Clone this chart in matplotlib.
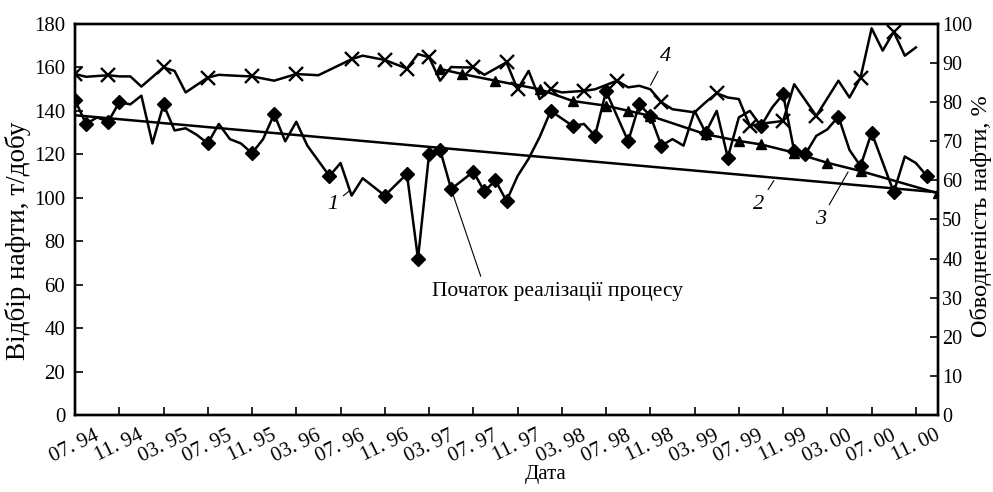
import numpy as np
import matplotlib.pyplot as plt

plt.rcParams['font.family'] = ['Liberation Serif', 'DejaVu Serif']

# month index: 0 = 07.94
tick_labels = ["07. 94", "11. 94", "03. 95", "07. 95", "11. 95", "03. 96", "07. 96",
               "11. 96", "03. 97", "07. 97", "11. 97", "03. 98", "07. 98", "11. 98",
               "03. 99", "07. 99", "11. 99", "03. 00", "07. 00", "11. 00"]

# 1 - oil production, t/day
oil_month = [0, 1, 2, 3, 4, 5, 6, 7, 8, 9, 10, 11, 12, 13, 14, 15, 16, 17, 18, 19, 20,
             21, 23, 24, 25, 26, 28, 30, 31, 32, 33, 34, 36, 37, 38, 39, 40, 41, 42, 43,
             45, 46, 47, 48, 50, 51, 52, 53, 54, 55, 56, 57, 58, 59, 60, 61, 62, 63, 64,
             65, 66, 67, 68, 69, 70, 71, 72, 74, 75, 76, 77]
oil_value = [145, 134, 137, 135, 144, 143, 147, 125, 143, 131, 132, 129, 125, 134, 127,
             125, 120.5, 127, 138.5, 126, 135, 124, 110, 116, 101, 109, 101, 111, 72, 120,
             122, 104, 112, 103, 108, 98.5, 110, 118, 128, 140, 133, 134, 128.5, 149, 126,
             143, 137.7, 124, 127, 124, 140, 130, 140, 118.5, 137, 140, 133, 141.5, 147.7,
             121.5, 120, 128.5, 131.5, 137.4, 122, 114.6, 130, 102.6, 119, 116, 110]
oil_marked = [0, 1, 3, 4, 8, 12, 16, 18, 23, 28, 30, 31, 32, 33, 34, 36, 37, 38, 39, 43,
              45, 47, 48, 50, 51, 52, 53, 57, 59, 62, 64, 65, 66, 69, 71, 72, 74, 77]

# 2 - base production trend
trend_month = [0, 78]
trend_value = [138, 102.5]

# 3 - water cut trend, %
cut_trend_month = [33, 35, 38, 42, 45, 48, 50, 52, 57, 60, 62, 65, 68, 71, 78]
cut_trend_value = [88.5, 87.2, 85.5, 83.3, 80.3, 79.1, 77.8, 76.5, 71.8, 70.1, 69.2,
                   67.1, 64.5, 62.4, 56.7]

# 4 - water cut, %
cut_month = [0, 1, 3, 4, 5, 6, 8, 9, 10, 12, 13, 15, 16, 18, 20, 22, 25, 26, 28, 29, 30,
             31, 32, 33, 34, 35, 36, 37, 39, 40, 41, 42, 43, 44, 46, 47, 49, 50, 51, 52,
             53, 54, 56, 57, 58, 59, 60, 61, 62, 64, 65, 67, 69, 70, 71, 72, 73, 74, 75, 76]
cut_value = [87.2, 86.5, 86.9, 86.6, 86.6, 84, 88.9, 88, 82.5, 86.3, 87, 86.7, 86.6, 85.5,
             87.2, 86.9, 91, 91.9, 90.8, 89.7, 88.6, 92.3, 91.5, 85.5, 89, 88.9, 88.9, 87,
             90.2, 83.3, 88, 80.8, 83.3, 82.5, 82.9, 83.3, 85.5, 83.8, 84.2, 83.3, 80, 78.2,
             77.4, 80, 82.3, 81.2, 80.8, 73.9, 74.5, 75.2, 84.6, 76.5, 85.5, 81.2, 86.3,
             98.9, 93.2, 98, 91.9, 94]
cut_marked = [0, 3, 8, 12, 16, 20, 25, 28, 30, 32, 36, 39, 40, 43, 46, 49, 53, 58, 61, 64,
              67, 71, 74]

fig = plt.figure(figsize=(9.93, 4.92), dpi=100)
ax = fig.add_axes([75 / 993, 77 / 492, 863 / 993, 391 / 492])
ax2 = ax.twinx()

lw = 1.8
ax.plot(oil_month, oil_value, color='black', lw=lw, marker='D', ms=7,
        markevery=[oil_month.index(m) for m in oil_marked], zorder=3)
ax.plot(trend_month, trend_value, color='black', lw=lw, zorder=3)
ax2.plot(cut_trend_month, cut_trend_value, color='black', lw=lw, marker='^', ms=7.5)
ax2.plot(cut_month, cut_value, color='black', lw=lw, marker='x', ms=9.5, mew=1.7,
         markevery=[cut_month.index(m) for m in cut_marked])

ax.set_xlim(0, 78)
ax.set_ylim(0, 180)
ax2.set_ylim(0, 100)
ax.set_xticks(np.arange(0, 77, 4))
ax.set_xticklabels(tick_labels, rotation=26, ha='center', va='top', fontsize=15)
ax.set_yticks(np.arange(0, 181, 20))
ax2.set_yticks(np.arange(0, 101, 10))
ax.tick_params(axis='x', direction='in', length=6, width=1.2, pad=8)
ax.tick_params(axis='y', direction='in', length=6, width=1.2, labelsize=15, pad=7)
ax2.tick_params(axis='y', direction='in', length=6, width=1.2, labelsize=14.5, pad=3)
for a in (ax, ax2):
    for s in a.spines.values():
        s.set_linewidth(1.7)

fig.text(18 / 993, 1 - 241 / 492, "Відбір нафти, т/добу", fontsize=19.5,
         rotation=90, ha='center', va='center')
fig.text(981 / 993, 1 - 216 / 492, "Обводненість нафти, %", fontsize=17.5,
         rotation=90, ha='center', va='center')
fig.text(546 / 993, 1 - 474 / 492, "Дата", fontsize=15, ha='center', va='center')

# curve numbers
leader = dict(arrowstyle='-', color='black', lw=0.8)
ax.annotate("1", xy=(25, 104), xytext=(23.3, 97), fontsize=16, style='italic',
            ha='center', va='center', arrowprops=leader)
ax.annotate("2", xy=(63.3, 109), xytext=(61.8, 97), fontsize=16, style='italic',
            ha='center', va='center', arrowprops=leader)
ax.annotate("3", xy=(70, 113), xytext=(67.4, 90), fontsize=16, style='italic',
            ha='center', va='center', arrowprops=leader)
ax.annotate("4", xy=(51.9, 150.7), xytext=(53.4, 165), fontsize=16, style='italic',
            ha='center', va='center', arrowprops=leader)
ax.annotate("Початок реалізації процесу", xy=(34, oil_value[oil_month.index(34)]),
            xytext=(32.3, 57), fontsize=15.5, ha='left', va='center',
            arrowprops=dict(arrowstyle='-', color='black', lw=0.8, relpos=(0.2, 1.0)))

fig.savefig("out.png", dpi=100)
